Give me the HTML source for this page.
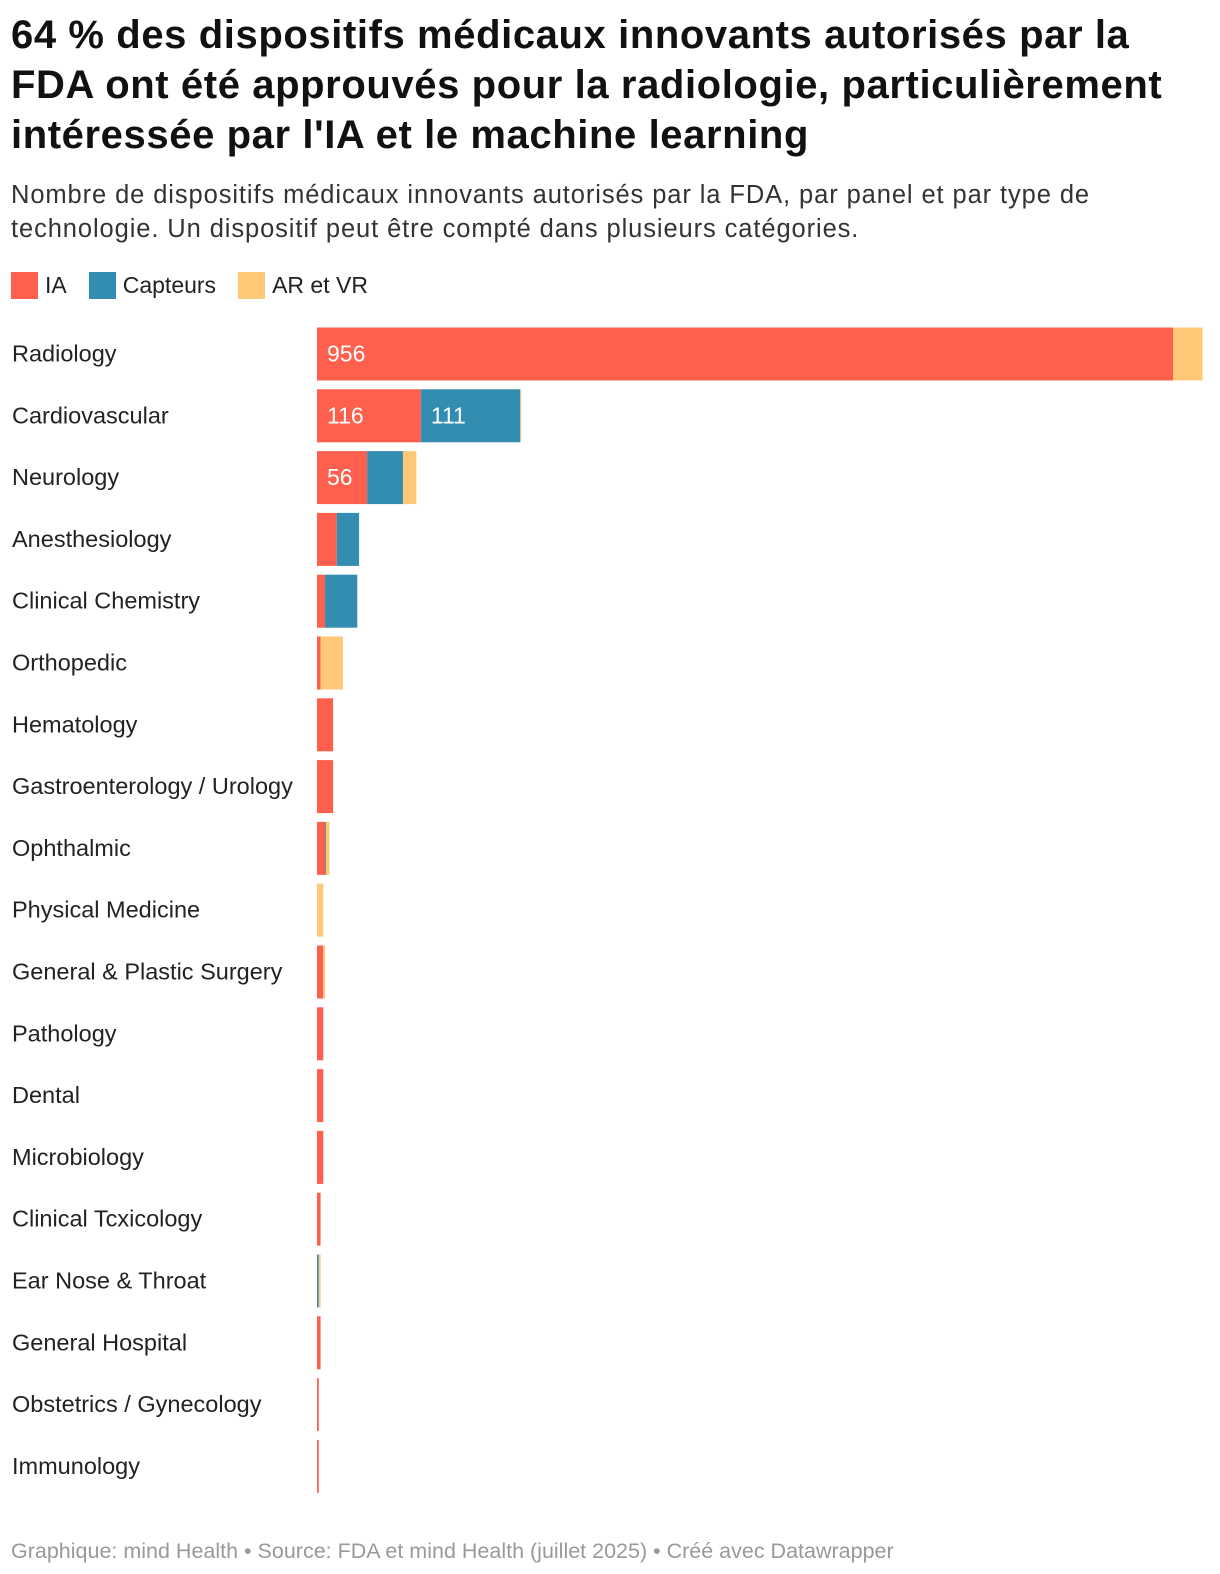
<!DOCTYPE html>
<html><head><meta charset="utf-8"><style>
body{margin:0;width:1220px;height:1574px;background:#fff;font-family:"Liberation Sans",Roboto,sans-serif;color:#222;position:relative;overflow:hidden}
h1{position:absolute;left:11px;top:10px;margin:0;font-size:40px;line-height:50px;font-weight:bold;color:#111;width:1180px;letter-spacing:0.6px}
.sub{position:absolute;left:11px;top:178px;font-size:25.5px;line-height:34px;color:#333;width:1130px;letter-spacing:0.9px}
.legend{position:absolute;left:11px;top:272px;font-size:23px;display:flex;gap:22px}
.legend span{display:flex;align-items:center}
.legend i{display:inline-block;width:27px;height:27px;margin-right:7px}
.foot{position:absolute;left:11px;top:1539px;font-size:21.5px;color:#999}
</style></head><body>
<h1>64 % des dispositifs médicaux innovants autorisés par la FDA ont été approuvés pour la radiologie, particulièrement intéressée par l'IA et le machine learning</h1>
<div class="sub">Nombre de dispositifs médicaux innovants autorisés par la FDA, par panel et par type de technologie. Un dispositif peut être compté dans plusieurs catégories.</div>
<div class="legend">
<span><i style="background:#ff5f4d"></i>IA</span>
<span><i style="background:#338db1"></i>Capteurs</span>
<span><i style="background:#ffc877"></i>AR et VR</span>
</div>
<svg id="chart" width="1220" height="1520" style="position:absolute;left:0;top:0"></svg>
<div class="foot">Graphique: mind Health • Source: FDA et mind Health (juillet 2025) • Créé avec Datawrapper</div>
<script>
const categories=["Radiology","Cardiovascular","Neurology","Anesthesiology","Clinical Chemistry","Orthopedic","Hematology","Gastroenterology / Urology","Ophthalmic","Physical Medicine","General & Plastic Surgery","Pathology","Dental","Microbiology","Clinical Tcxicology","Ear Nose & Throat","General Hospital","Obstetrics / Gynecology","Immunology"];
const iaValues=[956,116,56,22,9,4,18,18,9,0,7,7,7,7,4,0,4,2,2];
const capteursValues=[0,111,40,25,36,0,0,0,1,0,0,0,0,0,0,2,0,0,0];
const arvrValues=[33,1,15,0,0,25,0,0,4,7,2,0,0,0,0,2,0,0,0];
const labelShown=[true,true,true,false,false,false,false,false,false,false,false,false,false,false,false,false,false,false,false];
const svg=document.getElementById('chart');
const NS='http://www.w3.org/2000/svg';
const x0=317,xScale=v=>v*856/956;
const yTop=i=>327.5+i*61.8;
const colors=['#ff5f4d','#338db1','#ffc877'];
const names=['ia','capteurs','ar-vr'];
categories.forEach((c,i)=>{
  const y=yTop(i);
  const t=document.createElementNS(NS,'text');
  t.setAttribute('x',12);t.setAttribute('y',y+34);
  t.setAttribute('font-size','23.5');t.setAttribute('fill','#222');
  t.setAttribute('font-family','"Liberation Sans",sans-serif');
  t.textContent=c;
  
  
  svg.appendChild(t);
  let x=x0;
  [iaValues[i],capteursValues[i],arvrValues[i]].forEach((v,k)=>{
    if(v<=0)return;
    const w=xScale(v);
    const r=document.createElementNS(NS,'rect');
    r.setAttribute('x',x);r.setAttribute('y',y);r.setAttribute('width',w);r.setAttribute('height',53);
    r.setAttribute('fill',colors[k]);
    
    
    svg.appendChild(r);
    if(labelShown[i]&&k<2&&v>=50){
      const l=document.createElementNS(NS,'text');
      l.setAttribute('x',x+10);l.setAttribute('y',y+34);
      l.setAttribute('font-size','23');l.setAttribute('fill','#fff');
      l.setAttribute('font-family','"Liberation Sans",sans-serif');
      l.textContent=v;
      
      
      svg.appendChild(l);
    }
    x+=w;
  });
});
</script>
</body></html>
